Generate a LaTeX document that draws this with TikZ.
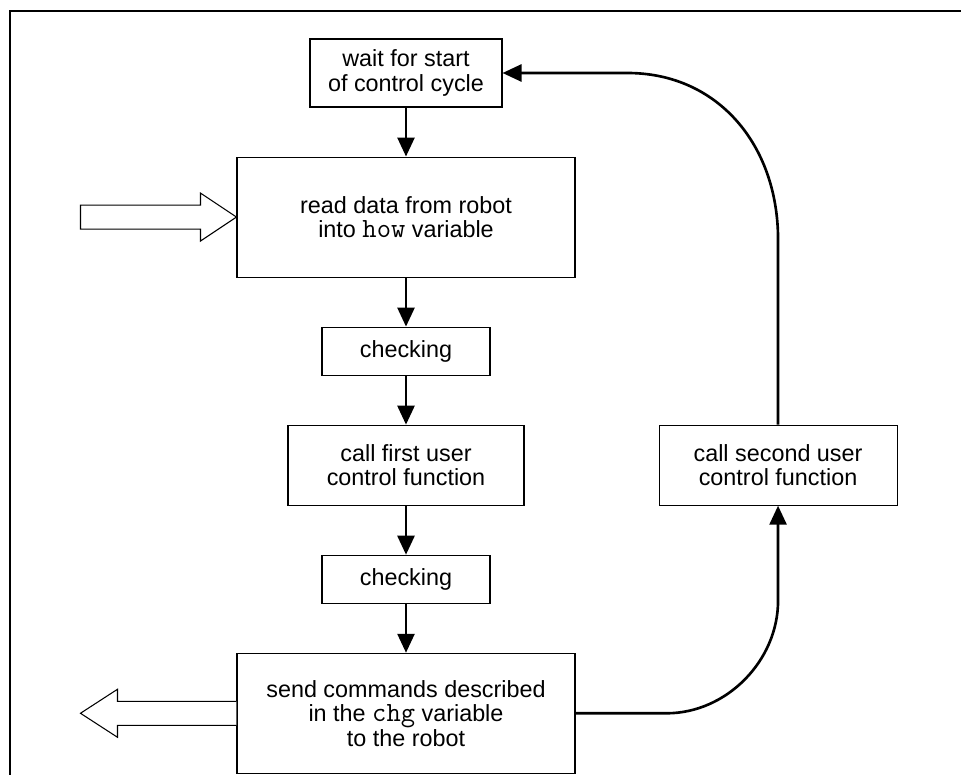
\documentclass[tikz,border=0pt]{standalone}
\usepackage{fontspec}
\setmainfont{Liberation Sans}
\usetikzlibrary{positioning,arrows.meta,calc}
\newcommand{\varname}[1]{{\ttfamily\fontsize{15.8}{13.9}\selectfont #1}}

\begin{document}
\begin{tikzpicture}[
    font=\fontsize{13.3}{13.9}\selectfont,
    stage/.style={draw, line width=0.6pt, align=center, inner sep=2pt},
    flow/.style={-{Triangle[length=0.38cm, width=0.34cm]}, line width=1.5pt},
    hollow/.style={draw, line width=0.6pt, fill=white, line join=miter}
  ]
  \useasboundingbox (0,0) rectangle (19.22,-15.5);
  % outer frame
  \draw[line width=1.2pt] (0.2,-15.5) -- (0.2,-0.22) -- (19.22,-0.22);

  % Main column
  \node[stage, minimum width=3.84cm, minimum height=1.36cm] (wait) at (8.12,-1.46)
    {wait for start\\of control cycle};
  \node[stage, minimum width=6.76cm, minimum height=2.4cm, below=0.98cm of wait]
    (read) {read data from robot\\into \varname{how} variable};
  \node[stage, minimum width=3.36cm, minimum height=0.96cm, below=0.98cm of read]
    (check1) {checking};
  \node[stage, minimum width=4.72cm, minimum height=1.6cm, below=0.98cm of check1]
    (first) {call first user\\control function};
  \node[stage, minimum width=3.36cm, minimum height=0.96cm, below=0.98cm of first]
    (check2) {checking};
  \node[stage, minimum width=6.76cm, minimum height=2.4cm, below=0.98cm of check2]
    (send) {send commands described\\in the \varname{chg} variable\\to the robot};

  % Return branch
  \node[stage, minimum width=4.76cm, minimum height=1.6cm, right=2.68cm of first]
    (second) {call second user\\control function};

  \draw[flow] (wait) -- (read);
  \draw[flow] (read) -- (check1);
  \draw[flow] (check1) -- (first);
  \draw[flow] (first) -- (check2);
  \draw[flow] (check2) -- (send);

  \draw[flow] (send.east) -- ++(1.82,0) .. controls +(1.2,0) and +(0,-1.2)
    .. ($(second.south)+(0,-1.9)$) -- (second.south);
  \draw[flow] (second.north) -- ($(second.north)+(0,3.7)$) .. controls +(0,1.9) and +(1.8,0)
    .. ($(wait.east)+(2.5,0)$) -- (wait.east);

  % data in / data out
  \draw[hollow] (read.west) -- ++(-0.72,0.48) -- ++(0,-0.24) -- ++(-2.4,0)
    -- ++(0,-0.48) -- ++(2.4,0) -- ++(0,-0.24) -- cycle;
  \draw[hollow] ($(send.west)+(0,0.24)$) -- ++(-2.38,0) -- ++(0,0.24)
    -- ++(-0.74,-0.48) -- ++(0.74,-0.48) -- ++(0,0.24) -- ++(2.38,0);
\end{tikzpicture}
\end{document}
